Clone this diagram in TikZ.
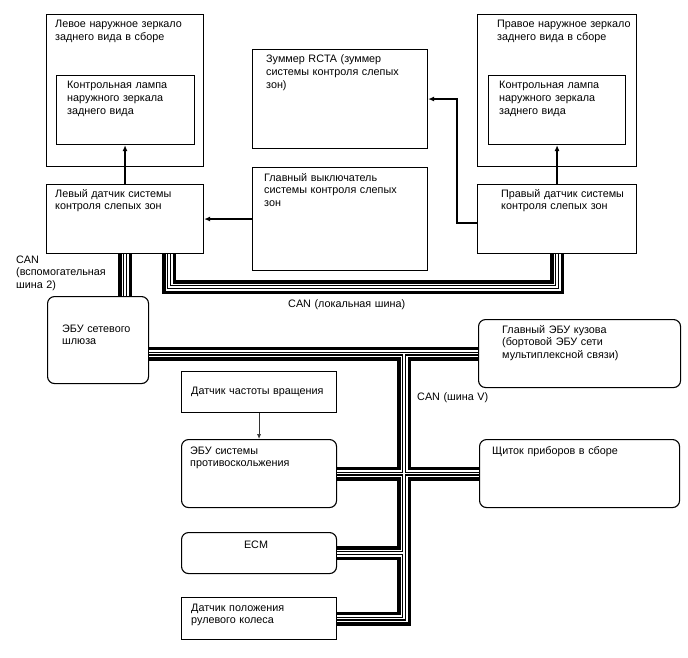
\documentclass[tikz,border=0pt]{standalone}
\usepackage{fontspec}
\setmainfont{Liberation Sans}
\usetikzlibrary{arrows.meta}

\begin{document}
\begin{tikzpicture}[x=1pt, y=-1pt, font=\fontsize{10.8}{12.8}\selectfont,
  blk/.style={draw, line width=1.1pt, inner sep=0pt, anchor=north west},
  rblk/.style={blk, rounded corners=7pt},
  txt/.style={anchor=base west, align=left, inner sep=0pt, text width=190pt},
  sig/.style={-{Latex[length=6pt,width=5pt]}, line width=1.3pt},
  sigthin/.style={-{Latex[length=5pt,width=4pt]}, line width=0.7pt, black!80}]

\useasboundingbox[fill=white] (0,0) rectangle (688,658);

% boxes
\node[blk, minimum width=157, minimum height=152] (lmir) at (46,14) {};
\node[blk, minimum width=138, minimum height=69] (llamp) at (56,75) {};
\node[blk, minimum width=157, minimum height=69] (lsens) at (46,184) {};
\node[blk, minimum width=175, minimum height=99] (buz) at (252,49) {};
\node[blk, minimum width=175, minimum height=103] (sw) at (252,167) {};
\node[blk, minimum width=159, minimum height=152] (rmir) at (477,14) {};
\node[blk, minimum width=137, minimum height=69] (rlamp) at (488,75) {};
\node[blk, minimum width=159, minimum height=69] (rsens) at (477,184) {};
\node[rblk, minimum width=101, minimum height=87] (gw) at (47,296) {};
\node[rblk, minimum width=202, minimum height=68] (bcm) at (478,319) {};
\node[rblk, minimum width=200, minimum height=68] (cl) at (479,439) {};
\node[blk, minimum width=155, minimum height=41] (spd) at (181,371) {};
\node[rblk, minimum width=155, minimum height=68] (ask) at (181,439) {};
\node[rblk, minimum width=155, minimum height=41] (ecm) at (181,532) {};
\node[blk, minimum width=155, minimum height=42] (srs) at (181,597) {};

% texts
\node[txt] (lmirt) at (55,28) {Левое наружное зеркало\\заднего вида в сборе};
\node[txt] (llampt) at (67,89) {Контрольная лампа\\наружного зеркала\\заднего вида};
\node[txt] (lsenst) at (55,197) {Левый датчик системы\\контроля слепых зон};
\node[txt] (buzt) at (266,63) {Зуммер RCTA (зуммер\\системы контроля слепых\\зон)};
\node[txt] (swt) at (264,181) {Главный выключатель\\системы контроля слепых\\зон};
\node[txt] (rmirt) at (497,28) {Правое наружное зеркало\\заднего вида в сборе};
\node[txt] (rlampt) at (499,89) {Контрольная лампа\\наружного зеркала\\заднего вида};
\node[txt] (rsenst) at (501,197) {Правый датчик системы\\контроля слепых зон};
\node[txt] (gwt) at (62,332) {ЭБУ сетевого\\шлюза};
\node[txt] (bcmt) at (502,333) {Главный ЭБУ кузова\\(бортовой ЭБУ сети\\мультиплексной связи)};
\node[txt] (clt) at (492,454) {Щиток приборов в сборе};
\node[txt] (spdt) at (191,394) {Датчик частоты вращения};
\node[txt] (askt) at (190,454) {ЭБУ системы\\противоскольжения};
\node[anchor=base, inner sep=0pt] (ecmt) at (256,548) {ECM};
\node[txt] (srst) at (191,611) {Датчик положения\\рулевого колеса};

% bus labels
\node[txt] (canaux) at (16,263) {CAN\\(вспомогательная\\шина 2)};
\node[txt] (canloc) at (288,307) {CAN (локальная шина)};
\node[txt] (canv) at (417,400) {CAN (шина V)};

% signal lines
\draw[sig] (lsens.north) -- (lsens.north |- llamp.south);
\draw[sig] (rsens.north) -- (rsens.north |- rlamp.south);
\draw[sig] (sw.west) -- (sw.west -| lsens.east);
\draw[sig] ([yshift=-4pt]rsens.west) -| ([xshift=29pt]buz.east) -- (buz.east);
\draw[sigthin] (spd.south) -- (ask.north);

% CAN buses: layered strokes
\coordinate (loc) at (360,287);
\coordinate (vt) at (404,352);
\foreach \w/\c in {14/black, 7/white, 4/black, 1.6/white} {
  \draw[\c, line width=\w pt, line join=miter] (gw.north -| lsens.south) -- (lsens.south);
  \draw[\c, line width=\w pt, line join=miter] ([xshift=44pt]lsens.south) |- (loc) -| (rsens.south);
  \draw[\c, line width=\w pt, line join=miter] (gw.east |- bcm.west) -- (bcm.west);
  \draw[\c, line width=\w pt, line join=miter] (bcm.west -| vt) -- (srs.east -| vt) -- (srs.east);
  \draw[\c, line width=\w pt, line join=miter] (ask.east) -- (cl.west);
  \draw[\c, line width=\w pt, line join=miter] (ecm.east) -- (ecm.east -| vt);
}

\end{tikzpicture}
\end{document}
